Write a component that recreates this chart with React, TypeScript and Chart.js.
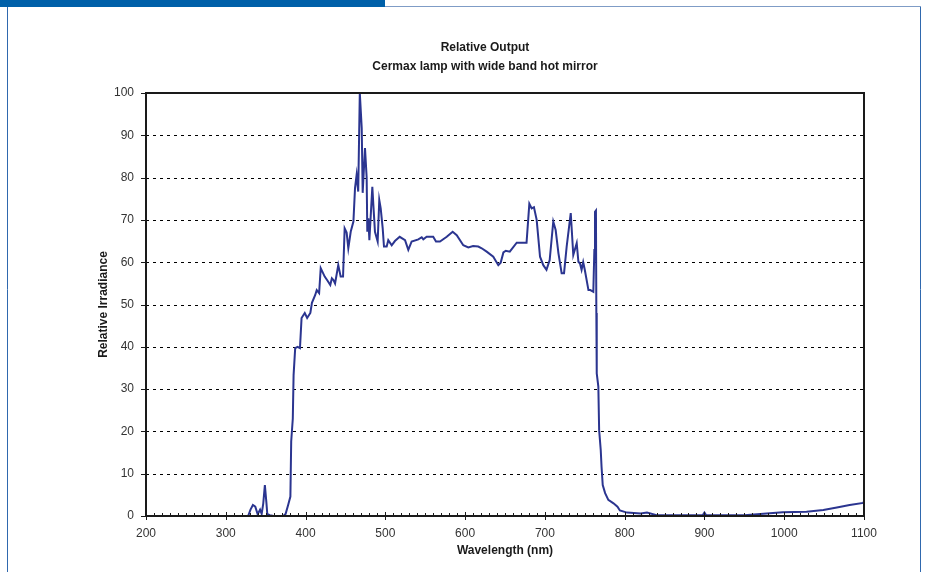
import React, { useEffect, useRef } from "react";
import { Chart, registerables } from "chart.js";

Chart.register(...registerables);

const titleLines = ["Relative Output", "Cermax lamp with wide band hot mirror"];
const xTitle = "Wavelength (nm)";
const yTitle = "Relative Irradiance";

const xMin = 200;
const xMax = 1100;
const xStep = 100;
const xMinorStep = 10;
const yMin = 0;
const yMax = 100;
const yStep = 10;

const wavelengths = [
  200, 250, 300, 328, 331, 334, 337, 340, 343, 345, 347, 349, 351, 352, 355, 360, 372, 375, 378, 381,
  382, 384, 385, 387, 390, 393, 395, 399, 402, 406, 408, 412, 414, 417, 419, 424, 428, 431, 433, 435,
  437, 441, 444, 447, 449, 451.5, 453.6, 456.6, 460, 462, 464, 466, 468, 470.4, 471.6, 474.5, 476.6, 477.4,
  478.7, 480, 483.7, 485, 487, 490.4, 492.4, 494.2, 496.7, 498.3, 501.7, 503.7, 508, 512, 518, 524.7,
  528.8, 533, 541.4, 545.6, 547.6, 551.8, 560, 563.5, 568.5, 577, 584.4, 589.5, 597.7, 604, 610, 616.5,
  620.8, 627, 635.3, 641.6, 644.6, 648, 651, 656, 664.7, 677, 680.5, 683.4, 686.3, 689.7, 693.9, 698,
  702, 706, 710.5, 713.5, 717, 721, 724, 727.3, 732.4, 735.6, 739.9, 742, 744, 746, 748, 750,
  754.6, 757, 760.7, 762, 762.8, 764, 764.5, 765, 767, 768, 770, 771, 772.5, 775.5, 779.5, 786,
  791, 794, 803, 820, 828, 840, 860, 880, 898, 900, 902, 920, 950, 978, 998, 1028, 1049, 1066,
  1082, 1099, 1100,
];

const irradiance = [
  0, 0, 0, 0, 1.5, 2.6, 2.2, 0.4, 1.5, 0.5, 3, 7.3, 3, 0.5, 0.2, 0, 0, 0.5, 2.5, 4.6,
  17.6, 23, 33.3, 39.7, 40, 39.7, 46.8, 48, 46.8, 48, 50.4, 52.2, 53.4, 52.7, 58.6, 56.6, 55.5, 54.6, 56.2, 55.8,
  55, 59.3, 56.6, 56.6, 68, 67, 63.3, 67.2, 69.6, 77.5, 80.6, 76.7, 100, 91.7, 76.4, 87, 80, 67.2,
  70.4, 65.2, 77.8, 73.5, 67.2, 64.9, 74.7, 72.7, 68, 63.7, 63.7, 65.2, 64, 65, 66, 65.2,
  62.9, 64.9, 65.4, 65.9, 65.4, 66, 66, 64.9, 64.9, 66, 67.2, 66.4, 64, 63.5, 63.8, 63.7,
  63.3, 62.5, 61.3, 59.3, 59.9, 62.3, 62.7, 62.5, 64.6, 64.6, 73.8, 72.7, 73, 70, 61.3, 59.3,
  58.2, 60.5, 69.6, 67.6, 62.1, 57.4, 57.4, 63.7, 71.6, 61.7, 64.5, 60.1, 59.7, 58.2, 60, 58.2,
  53.4, 53.4, 53, 62.9, 71.9, 72.2, 48, 33.7, 30.6, 20.3, 15.6, 11.7, 7.3, 5.4, 3.8, 3,
  2.2, 1.3, 0.8, 0.6, 0.8, 0.2, 0.2, 0.2, 0.2, 0.8, 0.2, 0.2, 0.2, 0.6, 0.9, 1, 1.4, 2,
  2.6, 3.1, 3.4,
];

const FONT = "Arial, 'Liberation Sans', Helvetica, sans-serif";

const decorPlugin = {
  id: "decor",
  beforeDraw(chart: any) {
    const ctx = chart.ctx;
    ctx.save();
    ctx.fillStyle = "#ffffff";
    ctx.fillRect(0, 0, chart.width, chart.height);
    ctx.fillStyle = "#0060a9";
    ctx.fillRect(0, 0, 385, 7);
    ctx.lineWidth = 1;
    ctx.strokeStyle = "#2f68ae";
    ctx.beginPath();
    ctx.moveTo(7.5, 7);
    ctx.lineTo(7.5, chart.height);
    ctx.moveTo(920.5, 7);
    ctx.lineTo(920.5, chart.height);
    ctx.stroke();
    ctx.strokeStyle = "#7f9cc6";
    ctx.beginPath();
    ctx.moveTo(385, 6.5);
    ctx.lineTo(921, 6.5);
    ctx.stroke();
    ctx.restore();
  },
  beforeDatasetsDraw(chart: any) {
    const { ctx, chartArea, scales } = chart;
    const y = scales.y;
    ctx.save();
    ctx.strokeStyle = "#000000";
    ctx.lineWidth = 1;
    ctx.setLineDash([3, 4]);
    y.ticks.forEach((t: any) => {
      if (t.value <= yMin || t.value >= yMax) return;
      const py = Math.round(y.getPixelForValue(t.value)) + 0.5;
      ctx.beginPath();
      ctx.moveTo(chartArea.left, py);
      ctx.lineTo(chartArea.right, py);
      ctx.stroke();
    });
    ctx.restore();
  },
  afterDatasetsDraw(chart: any) {
    const { ctx, chartArea, scales } = chart;
    const x = scales.x;
    const y = scales.y;
    ctx.save();
    ctx.strokeStyle = "#1a1a1a";
    ctx.lineWidth = 1;
    y.ticks.forEach((t: any) => {
      const py = Math.round(y.getPixelForValue(t.value)) + 0.5;
      ctx.beginPath();
      ctx.moveTo(chartArea.left - 5, py);
      ctx.lineTo(chartArea.left, py);
      ctx.stroke();
    });
    for (let v = xMin; v <= xMax; v += xMinorStep) {
      const px = Math.round(x.getPixelForValue(v)) + 0.5;
      ctx.beginPath();
      ctx.moveTo(px, chartArea.bottom - 3);
      ctx.lineTo(px, chartArea.bottom);
      ctx.stroke();
    }
    x.ticks.forEach((t: any) => {
      const px = Math.round(x.getPixelForValue(t.value)) + 0.5;
      ctx.beginPath();
      ctx.moveTo(px, chartArea.bottom - 4);
      ctx.lineTo(px, chartArea.bottom + 4);
      ctx.stroke();
    });
    ctx.lineWidth = 2;
    ctx.strokeStyle = "#1a1a1a";
    ctx.strokeRect(
      chartArea.left,
      chartArea.top,
      chartArea.right - chartArea.left,
      chartArea.bottom - chartArea.top
    );
    ctx.restore();
  },
  afterDraw(chart: any) {
    const ctx = chart.ctx;
    ctx.save();
    ctx.fillStyle = "#1a1a1a";
    ctx.font = `bold 12px ${FONT}`;
    ctx.textAlign = "center";
    ctx.textBaseline = "middle";
    titleLines.forEach((line, i) => {
      ctx.fillText(line, 485, 48 + i * 18.5);
    });
    ctx.restore();
  },
};

export default function App() {
  const canvasRef = useRef<HTMLCanvasElement | null>(null);

  useEffect(() => {
    const canvas = canvasRef.current;
    if (!canvas) return;
    const points = wavelengths.map((w, i) => ({ x: w, y: irradiance[i] }));
    const chart = new Chart(canvas, {
      type: "line",
      data: {
        datasets: [
          {
            label: "Relative Irradiance",
            data: points,
            borderColor: "#2b3590",
            borderWidth: 2,
            pointRadius: 0,
            tension: 0,
            fill: false,
          },
        ],
      },
      options: {
        responsive: false,
        animation: false,
        maintainAspectRatio: false,
        layout: { padding: { top: 93, right: 64, left: 0, bottom: 0 } },
        plugins: {
          legend: { display: false },
          tooltip: { enabled: false },
          title: { display: false },
        },
        scales: {
          x: {
            type: "linear",
            min: xMin,
            max: xMax,
            grid: { display: false, drawTicks: false },
            border: { display: false },
            ticks: {
              stepSize: xStep,
              padding: 10,
              color: "#333333",
              font: { family: FONT, size: 12 },
              maxRotation: 0,
              callback: (v: any) => String(v),
            },
            title: {
              display: true,
              text: xTitle,
              color: "#1a1a1a",
              font: { family: FONT, size: 12, weight: "bold" },
              padding: { top: 0, bottom: 14 },
            },
            afterFit(scale: any) {
              scale.height = 56;
            },
          },
          y: {
            type: "linear",
            min: yMin,
            max: yMax,
            grid: { display: false, drawTicks: false },
            border: { display: false },
            ticks: {
              stepSize: yStep,
              padding: 12,
              color: "#333333",
              font: { family: FONT, size: 12 },
              callback: (v: any) => String(v),
            },
            title: {
              display: true,
              text: yTitle,
              color: "#1a1a1a",
              font: { family: FONT, size: 12, weight: "bold" },
              padding: { top: 96, bottom: 0 },
            },
            afterFit(scale: any) {
              scale.width = 146;
            },
          },
        },
      },
      plugins: [decorPlugin],
    });
    return () => chart.destroy();
  }, []);

  return (
    <div style={{ position: "absolute", left: 0, top: 0, width: 928, height: 572 }}>
      <canvas ref={canvasRef} width={928} height={572} style={{ display: "block" }} />
    </div>
  );
}
